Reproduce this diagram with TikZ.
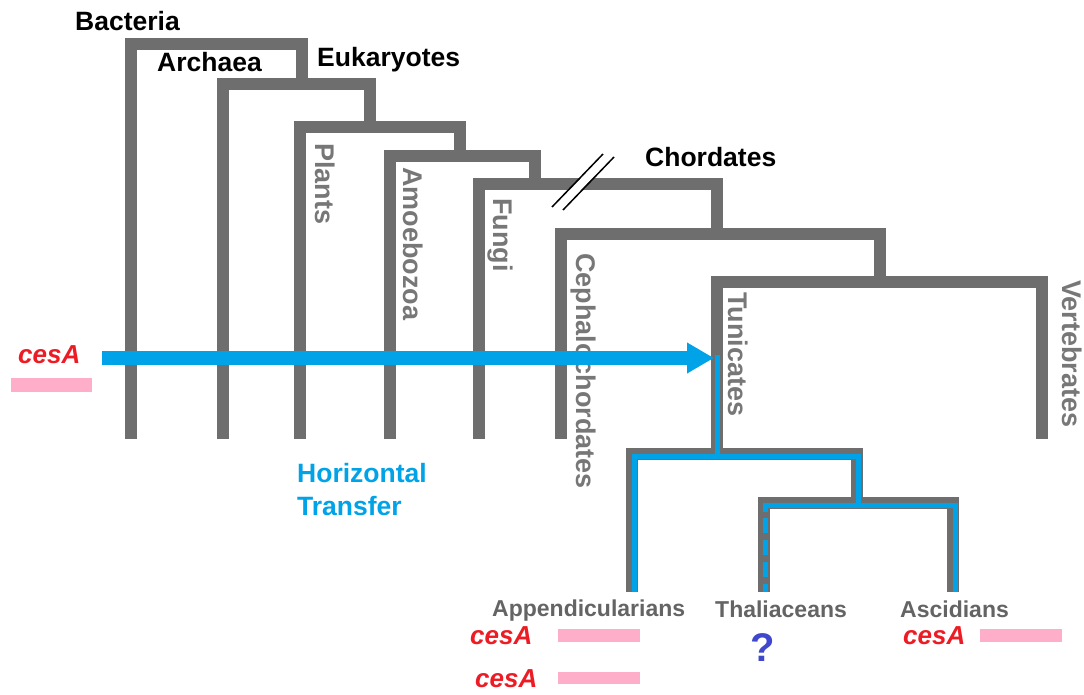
\documentclass[tikz,border=0pt]{standalone}
\usepackage{fontspec}
\setmainfont{Liberation Sans}
\usepackage{xcolor}
\usepackage{tikz}
\usetikzlibrary{arrows.meta}
\definecolor{tree}{HTML}{6E6E6E}
\definecolor{taxgray}{HTML}{777777}
\definecolor{tipgray}{HTML}{646464}
\definecolor{hgt}{HTML}{00A2E8}
\definecolor{genered}{HTML}{ED1C24}
\definecolor{pinkbar}{HTML}{FFAEC9}
\definecolor{quest}{HTML}{3F48CC}
\tikzset{
  branch/.style={draw=tree, line width=12pt, line join=miter},
  trail/.style={draw=hgt, line width=5pt, line join=miter},
  taxon/.style={text=taxgray, font=\fontsize{27}{27}\selectfont\bfseries, rotate=-90, anchor=base west, inner sep=0pt},
  clade/.style={text=black, font=\fontsize{26.5}{26.5}\selectfont\bfseries, anchor=base west, inner sep=0pt},
  tiplbl/.style={text=tipgray, font=\fontsize{23}{23}\selectfont\bfseries, anchor=base west, inner sep=0pt},
  gene/.style={text=genered, font=\fontsize{26}{26}\selectfont\bfseries\itshape, anchor=base west, inner sep=0pt},
  bar/.style={fill=pinkbar}
}

\begin{document}
\begin{tikzpicture}[x=1pt,y=-1pt]
\useasboundingbox[fill=white] (0,0) rectangle (1084,695);
% tree of life
\draw[branch] (131,439) |- (302,44) -- (302,84);
\draw[branch] (223,439) |- (370,84) -- (370,127);
\draw[branch] (300,439) |- (460,127) -- (460,156);
\draw[branch] (390,439) |- (535,156) -- (535,184);
\draw[branch] (479,439) |- (717,184) -- (717,234);
\draw[branch] (561,439) |- (880,234) -- (880,282);
\draw[branch] (717,454) |- (1042,282) -- (1042,439);
% tunicates
\draw[branch] (632,592) |- (857,454) -- (857,503);
\draw[branch] (764,592) |- (953,503) -- (953,592);
% break in the chordate branch
\draw[white, line width=8pt] (557.5,208.5) -- (608.5,155.5);
\draw[black, line width=1.5pt] (552,207) -- (603,154);
\draw[black, line width=1.5pt] (563,210) -- (614,157);
% clade names
\node[clade] (bact) at (75,31) {Bacteria};
\node[clade] (arch) at (157,72) {Archaea};
\node[clade] (euk) at (317,67) {Eukaryotes};
\node[clade] (chord) at (645,167) {Chordates};
\node[taxon] (plants) at (315,143) {Plants};
\node[taxon] (amoeb) at (403,167) {Amoebozoa};
\node[taxon] (fungi) at (493,198) {Fungi};
\node[taxon] (cephal) at (576,253) {Cephalochordates};
\node[taxon] (tunic) at (728,292) {Tunicates};
\node[taxon] (vert) at (1062,280) {Vertebrates};
% horizontal transfer
\coordinate (src) at (102,358);
\coordinate (dst) at (714,358);
\draw[hgt, line width=14pt, -{Triangle[length=27pt, width=29pt]}] (src) -- (dst);
\coordinate (tunictop) at (717,355);
\draw[trail] (tunictop) -- (717,456);
\draw[trail] (634,592) |- (858,456) -- (858,505);
\draw[trail] (858,505) -| (955.5,592);
\draw[trail] (858,505) -| (765.5,512);
\draw[trail, dash pattern=on 15pt off 7pt] (765.5,518) -- (765.5,592);
\node[text=hgt, font=\fontsize{26.5}{33}\selectfont\bfseries, align=left, anchor=north west, inner sep=0pt] (hgtlbl) at (297,463.5) {Horizontal\\Transfer};
% cesA copies
\node[gene] (gsrc) at (18,363) {cesA};
\fill[bar] (11,378) rectangle (92,392);
\node[tiplbl] (app) at (492,616) {Appendicularians};
\node[tiplbl] (thal) at (715,617) {Thaliaceans};
\node[tiplbl] (asc) at (900,617) {Ascidians};
\node[gene] (gapp1) at (470,644) {cesA};
\fill[bar] (558,629) rectangle (640,642);
\node[gene] (gapp2) at (475,687) {cesA};
\fill[bar] (558,672) rectangle (640,684);
\node[gene] (gasc) at (903,644) {cesA};
\fill[bar] (980,629) rectangle (1062,642);
\node[text=quest, font=\fontsize{40}{40}\selectfont\bfseries, inner sep=0pt] (unk) at (763,648) {?};
\end{tikzpicture}
\end{document}
